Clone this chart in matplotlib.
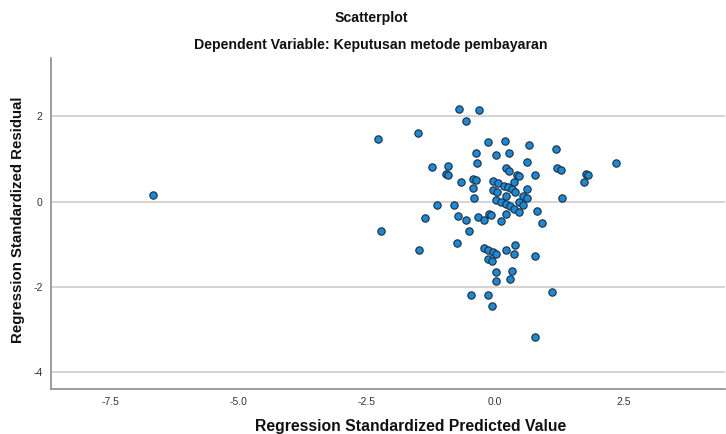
import matplotlib
matplotlib.use("Agg")
import matplotlib.pyplot as plt

# Regression standardized predicted values (x) and residuals (y)
pred = [-6.67, -2.28, -1.50, -0.70, -0.31, -0.57, -0.14, 0.19, 0.66, 1.19,
        -0.37, 0.02, 0.27, -0.35, 0.62, 2.36, -1.23, -0.92, -0.96, -0.92,
        0.21, 0.27, 0.43, 0.47, 0.78, 1.21, 1.29, 1.77, 1.81, 1.73,
        -0.66, -0.43, -0.37, -0.43, -0.41, -0.04, 0.06, 0.18, 0.25, 0.33,
        0.39, 0.37, 0.62, -0.04, 0.04, 0.21, 0.55, 0.62, 1.31, 0.02,
        0.12, 0.21, 0.29, 0.37, 0.47, 0.47, 0.55, 0.82, -1.13, -0.80,
        0.92, 0.21, -0.12, -0.08, -0.33, -0.21, -0.57, -0.72, -1.36, 0.12,
        -0.51, -2.22, -0.74, -1.48, -0.21, -0.14, -0.04, 0.02, -0.14, -0.06,
        0.21, 0.39, 0.37, 0.78, 0.02, 0.33, 0.02, 0.29, -0.47, -0.14,
        -0.06, 1.11, 0.78]
resid = [0.16, 1.47, 1.61, 2.17, 2.15, 1.89, 1.40, 1.42, 1.33, 1.23,
         1.14, 1.09, 1.14, 0.91, 0.93, 0.91, 0.81, 0.84, 0.65, 0.62,
         0.79, 0.72, 0.63, 0.60, 0.63, 0.79, 0.74, 0.65, 0.62, 0.46,
         0.46, 0.53, 0.51, 0.32, 0.09, 0.48, 0.44, 0.37, 0.34, 0.30,
         0.23, 0.46, 0.30, 0.27, 0.23, 0.13, 0.13, 0.09, 0.09, 0.04,
         -0.01, -0.05, -0.10, -0.17, -0.24, -0.01, -0.08, -0.22, -0.08, -0.08,
         -0.50, -0.29, -0.29, -0.31, -0.36, -0.43, -0.43, -0.33, -0.38, -0.45,
         -0.69, -0.69, -0.97, -1.13, -1.08, -1.13, -1.18, -1.22, -1.34, -1.39,
         -1.13, -1.01, -1.22, -1.27, -1.65, -1.62, -1.86, -1.81, -2.18, -2.18,
         -2.44, -2.11, -3.17]

x_ticks = [-7.5, -5.0, -2.5, 0.0, 2.5]
x_tick_labels = ["-7.5", "-5.0", "-2.5", "0.0", "2.5"]
y_ticks = [-4, -2, 0, 2]
y_tick_labels = ["-4", "-2", "0", "2"]

plt.rcParams['font.family'] = ['Liberation Sans', 'DejaVu Sans']

W, H = 726, 434
fig = plt.figure(figsize=(W / 100, H / 100), dpi=100)
ax = fig.add_axes([51 / W, (H - 389) / H, (725 - 51) / W, (389 - 58) / H])

for yt in y_ticks:
    ax.axhline(yt, color='#d4d4d4', linewidth=1.4, zorder=0)

ax.scatter(pred, resid, s=28, facecolor='#1a8ad8', edgecolor='#1c2c3c',
           linewidth=0.8, zorder=3)

ax.set_xlim(-8.65, 4.48)
ax.set_ylim(-4.39, 3.37)
ax.set_xticks(x_ticks)
ax.set_xticklabels(x_tick_labels)
ax.set_yticks(y_ticks)
ax.set_yticklabels(y_tick_labels)
ax.tick_params(axis='both', length=0, labelsize=7.5, colors='#333333', pad=6)

for s in ['top', 'right']:
    ax.spines[s].set_visible(False)
for s in ['left', 'bottom']:
    ax.spines[s].set_color('#8c8c8c')
    ax.spines[s].set_linewidth(1.2)

fig.text(411 / W, 1 - 427 / H, "Regression Standardized Predicted Value",
         ha='center', va='center', fontsize=11.3, fontweight='bold', color='#111111')
fig.text(18 / W, 1 - 220 / H, "Regression Standardized Residual", rotation=90,
         ha='center', va='center', fontsize=10.8, fontweight='bold', color='#111111')

fig.text(371 / W, 1 - 18 / H, "Scatterplot", ha='center', va='center',
         fontsize=10.2, fontweight='bold', color='#111111')
fig.text(371 / W, 1 - 45 / H,
         "Dependent Variable: Keputusan metode pembayaran", ha='center', va='center',
         fontsize=10.2, fontweight='bold', color='#111111')

fig.savefig("out.png", dpi=100)
